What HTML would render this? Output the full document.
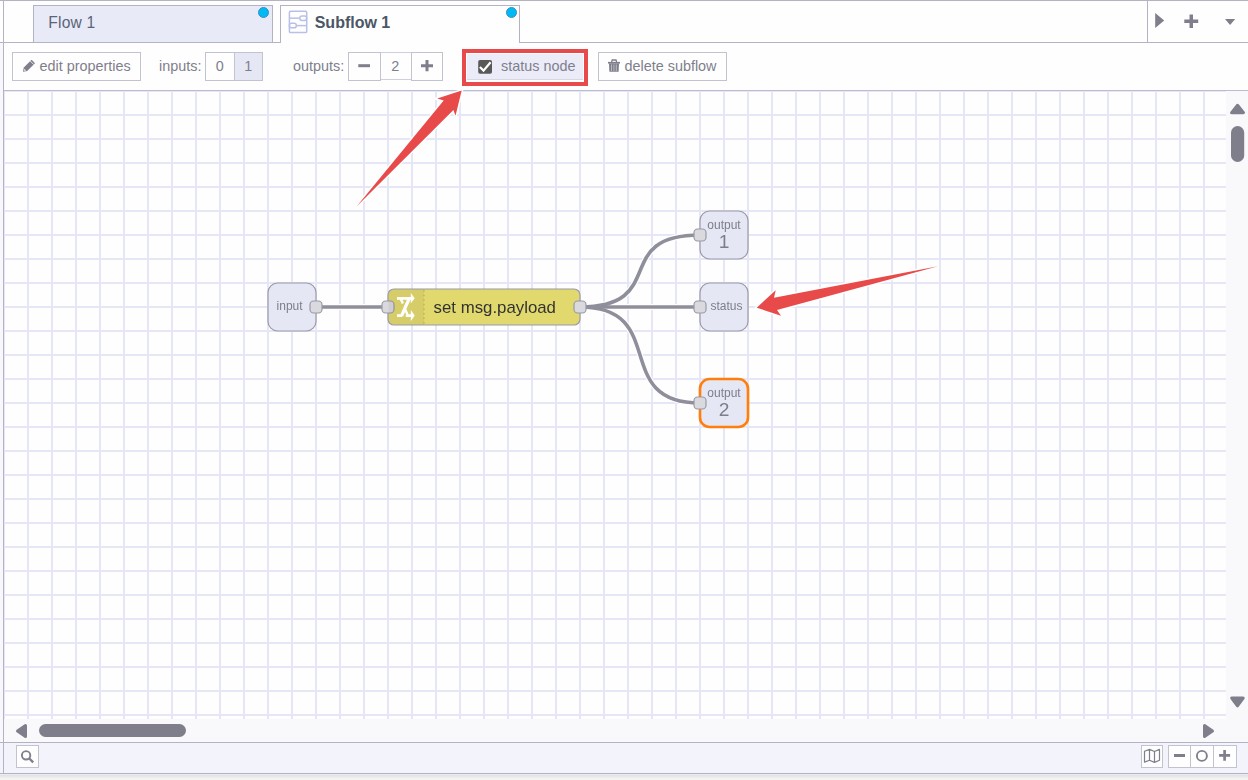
<!DOCTYPE html>
<html><head><meta charset="utf-8">
<style>
html,body{margin:0;padding:0;}
body{width:1248px;height:780px;position:relative;overflow:hidden;background:#efeff0;font-family:"Liberation Sans",sans-serif;}
.a{position:absolute;box-sizing:border-box;}
.txt{position:absolute;white-space:nowrap;line-height:1;}
svg{position:absolute;overflow:visible;}
</style></head><body>

<div class="a" style="left:0;top:0;width:3px;height:42px;background:#fefefe"></div>
<div class="a" style="left:0;top:43px;width:3px;height:699px;background:#f8f8fc"></div>
<div class="a" style="left:0;top:743px;width:3px;height:30px;background:#f3f3fb"></div>
<div class="a" style="left:3px;top:0;width:1px;height:774px;background:#b3b3c3"></div>
<div class="a" style="left:0;top:0;width:1248px;height:1px;background:#b3b3c3"></div>
<div class="a" style="left:4px;top:1px;width:1244px;height:41px;background:#fefefe"></div>
<div class="a" style="left:0px;top:42px;width:1248px;height:1px;background:#b3b3c3"></div>
<div class="a" style="left:33px;top:5px;width:240px;height:37px;background:#e9eaf7;border:1px solid #b3b3c3;border-bottom:none"></div>
<div class="txt" style="left:48.30px;top:15.39px;font-size:15.60px;color:#5a6477;letter-spacing:0.2px;">Flow 1</div>
<div class="a" style="left:258.3px;top:7.4px;width:11px;height:11px;border-radius:50%;background:#00b9f5;border:1px solid #3a8fc0"></div>
<div class="a" style="left:280px;top:5px;width:240px;height:38px;background:#fefefe;border:1px solid #b3b3c3;border-bottom:none"></div>
<svg style="left:0;top:0" width="1248" height="43" viewBox="0 0 1248 43">
 <g fill="none" stroke="#b9c0e8" stroke-width="1.5">
  <rect x="289.4" y="11.3" width="17.3" height="21.3" rx="1.2"/>
  <path d="M289.4 18.15 H299.8"/>
  <rect x="299.8" y="15.9" width="6.9" height="4.5" rx="2.2"/>
  <rect x="289.4" y="23.35" width="6.9" height="4.5" rx="2.2"/>
  <path d="M296.3 25.6 H306.7"/>
 </g>
 <path d="M1155.2 13 L1164.2 20.5 L1155.2 28 Z" fill="#7f7f8c"/>
 <path d="M1189.5 14.5 H1193 V19.5 H1198.2 V23 H1193 V28 H1189.5 V23 H1184.3 V19.5 H1189.5 Z" fill="#7f7f8c"/>
 <path d="M1225 19 L1235.2 19 L1230.1 25 Z" fill="#7f7f8c"/>
</svg>
<div class="txt" style="left:314.70px;top:15.06px;font-size:16.00px;color:#4b5666;font-weight:bold;">Subflow 1</div>
<div class="a" style="left:506.3px;top:7.4px;width:11px;height:11px;border-radius:50%;background:#00b9f5;border:1px solid #3a8fc0"></div>
<div class="a" style="left:1147px;top:1px;width:1px;height:41px;background:#b3b3c3"></div>
<div class="a" style="left:4px;top:43px;width:1244px;height:47px;background:#fefefe"></div>
<div class="a" style="left:4px;top:90px;width:1244px;height:1px;background:#bcbccc"></div>
<div class="a" style="left:12px;top:52px;width:129px;height:29px;border:1px solid #c1c3cf;background:#fefefe;"></div>
<div class="txt" style="left:39.50px;top:58.71px;font-size:14.40px;color:#7f7f8c;">edit properties</div>
<div class="txt" style="left:159.00px;top:58.71px;font-size:14.40px;color:#7f7f8c;">inputs:</div>
<div class="a" style="left:205px;top:52px;width:30px;height:29px;border:1px solid #c1c3cf;background:#fefefe;"></div>
<div class="a" style="left:234px;top:52px;width:29px;height:29px;border:1px solid #c1c3cf;background:#e6e7f5;"></div>
<div class="txt" style="left:215.80px;top:58.71px;font-size:14.40px;color:#7f7f8c;">0</div>
<div class="txt" style="left:244.30px;top:58.71px;font-size:14.40px;color:#7f7f8c;">1</div>
<div class="txt" style="left:293.00px;top:58.71px;font-size:14.40px;color:#7f7f8c;">outputs:</div>
<div class="a" style="left:348px;top:52px;width:33px;height:29px;border:1px solid #c1c3cf;background:#fefefe;"></div>
<div class="a" style="left:381px;top:52px;width:30px;height:28px;border-top:1px solid #cfd0de;border-bottom:1px solid #cfd0de;background:#fefefe"></div>
<div class="a" style="left:411px;top:52px;width:32px;height:29px;border:1px solid #c1c3cf;background:#fefefe;"></div>
<div class="txt" style="left:391.30px;top:58.71px;font-size:14.40px;color:#7f7f8c;">2</div>
<div class="a" style="left:467px;top:54px;width:116px;height:26px;background:#ebecf8;border-bottom:1px solid #d7d8e4"></div>
<div class="txt" style="left:501.00px;top:58.71px;font-size:14.40px;color:#7f7f8c;">status node</div>
<div class="a" style="left:462px;top:49px;width:126px;height:37px;border:4px solid #e8494a"></div>
<div class="a" style="left:598px;top:52px;width:129px;height:29px;border:1px solid #c1c3cf;background:#fefefe;"></div>
<div class="txt" style="left:624.50px;top:58.71px;font-size:14.40px;color:#7f7f8c;">delete subflow</div>
<svg style="left:0;top:43px" width="1248" height="48" viewBox="0 43 1248 48">
 <path d="M23 71.8 L23.8 67.6 L31.6 59.8 L35 63.2 L27.2 71 Z" fill="#7f7f8c"/>
 <path d="M30.3 61.1 L33.7 64.5" stroke="#fefefe" stroke-width="0.8"/>
 <path d="M24 70.8 L24.4 68.8 L26 70.4 Z" fill="#fefefe"/>
 <rect x="358.3" y="64.2" width="11.7" height="3" fill="#7f7f8c"/>
 <path d="M425.5 60 H428.5 V64.3 H433 V67.3 H428.5 V71.3 H425.5 V67.3 H421 V64.3 H425.5 Z" fill="#7f7f8c"/>
 <rect x="478.2" y="60" width="13.8" height="13.8" rx="1.8" fill="#595955"/>
 <path d="M479.9 67 L483.5 70.6 L490.6 62.2" fill="none" stroke="#fff" stroke-width="2.2" stroke-linecap="butt" stroke-linejoin="miter"/>
 <path d="M611.6 62 L612.2 60 H616 L616.6 62" fill="none" stroke="#7f7f8c" stroke-width="1.3"/>
 <rect x="608" y="61.9" width="12" height="1.7" fill="#7f7f8c"/>
 <path d="M609 63.5 H619 L618.6 71.8 H609.4 Z" fill="#7f7f8c"/>
 <path d="M611.5 64.5 V71 M613.9 64.5 V71 M616.3 64.5 V71" stroke="#c8c8d2" stroke-width="0.8"/>
</svg>
<svg style="left:0;top:0;will-change:transform" width="1248" height="780" viewBox="0 0 1248 780">
<defs><clipPath id="cc"><rect x="4" y="91" width="1222" height="628"/></clipPath></defs>
<g clip-path="url(#cc)">
<rect x="4" y="91" width="1222" height="628" fill="#fefefe"/>
<g fill="#e5e6f6"><rect x="3" y="91" width="2" height="628"/><rect x="27" y="91" width="2" height="628"/><rect x="51" y="91" width="2" height="628"/><rect x="75" y="91" width="2" height="628"/><rect x="99" y="91" width="2" height="628"/><rect x="123" y="91" width="2" height="628"/><rect x="147" y="91" width="2" height="628"/><rect x="171" y="91" width="2" height="628"/><rect x="195" y="91" width="2" height="628"/><rect x="219" y="91" width="2" height="628"/><rect x="243" y="91" width="2" height="628"/><rect x="267" y="91" width="2" height="628"/><rect x="291" y="91" width="2" height="628"/><rect x="315" y="91" width="2" height="628"/><rect x="339" y="91" width="2" height="628"/><rect x="363" y="91" width="2" height="628"/><rect x="387" y="91" width="2" height="628"/><rect x="411" y="91" width="2" height="628"/><rect x="435" y="91" width="2" height="628"/><rect x="459" y="91" width="2" height="628"/><rect x="483" y="91" width="2" height="628"/><rect x="507" y="91" width="2" height="628"/><rect x="531" y="91" width="2" height="628"/><rect x="555" y="91" width="2" height="628"/><rect x="579" y="91" width="2" height="628"/><rect x="603" y="91" width="2" height="628"/><rect x="627" y="91" width="2" height="628"/><rect x="651" y="91" width="2" height="628"/><rect x="675" y="91" width="2" height="628"/><rect x="699" y="91" width="2" height="628"/><rect x="723" y="91" width="2" height="628"/><rect x="747" y="91" width="2" height="628"/><rect x="771" y="91" width="2" height="628"/><rect x="795" y="91" width="2" height="628"/><rect x="819" y="91" width="2" height="628"/><rect x="843" y="91" width="2" height="628"/><rect x="867" y="91" width="2" height="628"/><rect x="891" y="91" width="2" height="628"/><rect x="915" y="91" width="2" height="628"/><rect x="939" y="91" width="2" height="628"/><rect x="963" y="91" width="2" height="628"/><rect x="987" y="91" width="2" height="628"/><rect x="1011" y="91" width="2" height="628"/><rect x="1035" y="91" width="2" height="628"/><rect x="1059" y="91" width="2" height="628"/><rect x="1083" y="91" width="2" height="628"/><rect x="1107" y="91" width="2" height="628"/><rect x="1131" y="91" width="2" height="628"/><rect x="1155" y="91" width="2" height="628"/><rect x="1179" y="91" width="2" height="628"/><rect x="1203" y="91" width="2" height="628"/><rect x="4" y="90" width="1222" height="2"/><rect x="4" y="114" width="1222" height="2"/><rect x="4" y="138" width="1222" height="2"/><rect x="4" y="162" width="1222" height="2"/><rect x="4" y="186" width="1222" height="2"/><rect x="4" y="210" width="1222" height="2"/><rect x="4" y="234" width="1222" height="2"/><rect x="4" y="258" width="1222" height="2"/><rect x="4" y="282" width="1222" height="2"/><rect x="4" y="306" width="1222" height="2"/><rect x="4" y="330" width="1222" height="2"/><rect x="4" y="354" width="1222" height="2"/><rect x="4" y="378" width="1222" height="2"/><rect x="4" y="402" width="1222" height="2"/><rect x="4" y="426" width="1222" height="2"/><rect x="4" y="450" width="1222" height="2"/><rect x="4" y="474" width="1222" height="2"/><rect x="4" y="498" width="1222" height="2"/><rect x="4" y="522" width="1222" height="2"/><rect x="4" y="546" width="1222" height="2"/><rect x="4" y="570" width="1222" height="2"/><rect x="4" y="594" width="1222" height="2"/><rect x="4" y="618" width="1222" height="2"/><rect x="4" y="642" width="1222" height="2"/><rect x="4" y="666" width="1222" height="2"/><rect x="4" y="690" width="1222" height="2"/><rect x="4" y="714" width="1222" height="2"/></g>
<g transform="translate(4 91) scale(1.2)">
 <g fill="none" stroke="#fefefe" stroke-width="5">
  <path d="M260 180 L320 180"/>
  <path d="M480 180 C555 180 505 120 580 120"/>
  <path d="M480 180 L580 180"/>
  <path d="M480 180 C555 180 505 260 580 260"/>
 </g>
 <g fill="none" stroke="#8f8f9c" stroke-width="3">
  <path d="M260 180 L320 180"/>
  <path d="M480 180 C555 180 505 120 580 120"/>
  <path d="M480 180 L580 180"/>
  <path d="M480 180 C555 180 505 260 580 260"/>
 </g>
 <g stroke="#9a9aa8" stroke-width="1">
  <rect x="220" y="160" width="40" height="40" rx="8" fill="#e6e7f5"/>
  <rect x="255" y="175" width="10" height="10" rx="3" fill="#d9d9de"/>
  <rect x="320" y="165" width="160" height="30" rx="5" fill="#e2d96e"/>
  <rect x="315" y="175" width="10" height="10" rx="3" fill="#d9d9de"/>
  <rect x="475" y="175" width="10" height="10" rx="3" fill="#d9d9de"/>
  <rect x="580" y="100" width="40" height="40" rx="8" fill="#e6e7f5"/>
  <rect x="575" y="115" width="10" height="10" rx="3" fill="#d9d9de"/>
  <rect x="580" y="160" width="40" height="40" rx="8" fill="#e6e7f5"/>
  <rect x="575" y="175" width="10" height="10" rx="3" fill="#d9d9de"/>
  <rect x="580" y="240" width="40" height="40" rx="8" fill="#e6e7f5" stroke="#ff7f0e" stroke-width="2.2"/>
  <rect x="575" y="255" width="10" height="10" rx="3" fill="#d9d9de"/>
 </g>
 <path d="M325.5 165.5 H350 V194.5 H325.5 A5 5 0 0 1 320.5 189.5 V170.5 A5 5 0 0 1 325.5 165.5 Z" fill="#000" fill-opacity="0.05"/>
 <path d="M350 166 V194" stroke="#8a6a3a" stroke-opacity="0.5" stroke-width="0.8" stroke-dasharray="1.2 2.6"/>
 <g font-family="Liberation Sans" font-size="10" fill="#7e7e8a" text-anchor="middle">
  <text x="238" y="182.3">input</text>
  <text x="600" y="114.7">output</text>
  <text x="602" y="182.3">status</text>
  <text x="600" y="254.7">output</text>
 </g>
 <g font-family="Liberation Sans" font-size="16" fill="#7e7e8a" text-anchor="middle">
  <text x="600" y="130.7">1</text>
  <text x="600" y="270.7">2</text>
 </g>
 <text x="358" y="185.4" font-family="Liberation Sans" font-size="14" fill="#333">set msg.payload</text>
</g>
<g fill="#fff">
 <rect x="397" y="297" width="14.2" height="2.8"/>
 <rect x="397" y="314.2" width="5.2" height="2.8"/>
 <rect x="405.8" y="314.2" width="5.4" height="2.8"/>
 <path d="M410.8 293 L414.7 298.3 L410.8 303.4 Z M410.8 310.1 L414.7 315.6 L410.8 321.2 Z"/>
</g>
<g fill="none" stroke="#fff" stroke-linecap="butt">
 <path d="M409.4 298.2 L401.6 315.8" stroke-width="3.3"/>
 <path d="M400.9 299.2 L402.9 303.6" stroke-width="2.4"/>
 <path d="M405.1 309.2 L407.6 314.8" stroke-width="2.4"/>
</g>
</g>
</svg>
<svg style="left:0;top:0" width="1248" height="780" viewBox="0 0 1248 780">
 <g fill="#e84a4a" stroke="#fefefe" stroke-width="3" stroke-linejoin="miter" paint-order="stroke">
  <path d="M356.8 206.3 L443.7 100.5 L437.2 98.6 L461.7 90.5 L455.5 115.8 L453.4 110.1 Z"/>
  <path d="M938 266.2 L774 297.7 L775.7 290.3 L756.7 307.7 L781 315.7 L777 310 Z"/>
 </g>
</svg>
<div class="a" style="left:1226px;top:91px;width:22px;height:628px;background:#f9f9fc"></div>
<div class="a" style="left:4px;top:719px;width:1244px;height:23px;background:#f9f9fc"></div>
<svg style="left:0;top:0" width="1248" height="780" viewBox="0 0 1248 780">
 <g fill="#7f7f8c" stroke="#7f7f8c" stroke-width="3" stroke-linejoin="round">
  <path d="M1237.55 105.3 L1243.5 112.7 L1231.6 112.7 Z"/>
  <path d="M1231.7 698 L1243.2 698 L1237.45 705.8 Z"/>
  <path d="M17.5 731 L25.5 725.5 L25.5 736.5 Z"/>
  <path d="M1204.5 725.5 L1204.5 736.5 L1212.5 731 Z"/>
 </g>
 <rect x="1231" y="126" width="13.2" height="36" rx="6.6" fill="#7f7f8c"/>
 <rect x="39" y="724" width="147" height="13" rx="6.5" fill="#7f7f8c"/>
</svg>
<div class="a" style="left:0px;top:742px;width:1248px;height:1px;background:#b3b3c3"></div>
<div class="a" style="left:4px;top:743px;width:1244px;height:30px;background:#f3f3fb"></div>
<div class="a" style="left:0px;top:773px;width:1248px;height:1px;background:#b3b3c3"></div>
<div class="a" style="left:0px;top:774px;width:1248px;height:1px;background:#ececec"></div>
<div class="a" style="left:0px;top:775px;width:1248px;height:1px;background:#e4e4e4"></div>
<div class="a" style="left:0px;top:776px;width:1248px;height:1px;background:#e8e8e8"></div>
<div class="a" style="left:0px;top:777px;width:1248px;height:1px;background:#eeeeee"></div>
<div class="a" style="left:0px;top:778px;width:1248px;height:1px;background:#f2f2f2"></div>
<div class="a" style="left:0px;top:779px;width:1248px;height:1px;background:#f5f5f5"></div>
<div class="a" style="left:16px;top:745px;width:23px;height:23px;border:1px solid #c1c3cf;background:#fefefe;"></div>
<div class="a" style="left:1141px;top:745px;width:22px;height:23px;border:1px solid #c1c3cf;background:#fefefe;"></div>
<div class="a" style="left:1168px;top:745px;width:23px;height:23px;border:1px solid #c1c3cf;background:#fefefe;"></div>
<div class="a" style="left:1190px;top:745px;width:24px;height:23px;border:1px solid #c1c3cf;background:#fefefe;"></div>
<div class="a" style="left:1213px;top:745px;width:24px;height:23px;border:1px solid #c1c3cf;background:#fefefe;"></div>
<svg style="left:0;top:0" width="1248" height="780" viewBox="0 0 1248 780">
 <circle cx="26.1" cy="755.3" r="4.2" fill="none" stroke="#7f7f8c" stroke-width="1.9"/>
 <path d="M29.3 758.5 L33.2 762.3" stroke="#7f7f8c" stroke-width="2.4"/>
 <path d="M1144.5 751.2 L1149.5 749.4 L1154.5 751.5 L1159.5 749.4 V760.3 L1154.5 762.4 L1149.5 760.3 L1144.5 762.1 Z M1149.5 749.4 V760.3 M1154.5 751.5 V762.4" fill="none" stroke="#7f7f8c" stroke-width="1.2" stroke-linejoin="round"/>
 <rect x="1174" y="754" width="11" height="3" fill="#7f7f8c"/>
 <circle cx="1201.9" cy="755.9" r="5" fill="none" stroke="#7f7f8c" stroke-width="1.9"/>
 <path d="M1223.25 750.1 H1225.95 V754.1 H1230.1 V756.8 H1225.95 V760.8 H1223.25 V756.8 H1219.1 V754.1 H1223.25 Z" fill="#7f7f8c"/>
</svg>
</body></html>
